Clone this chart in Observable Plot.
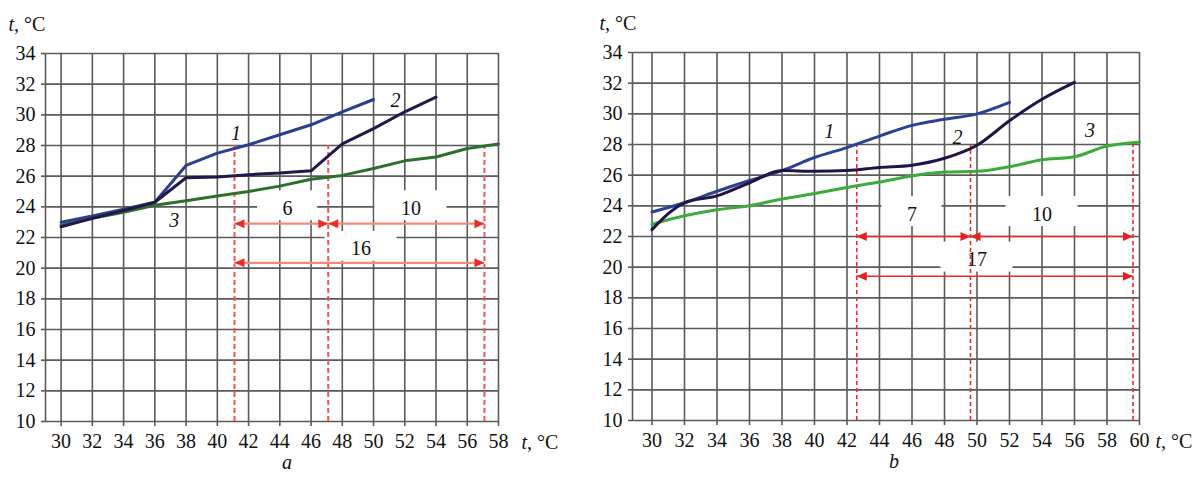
<!DOCTYPE html>
<html lang="en">
<head>
<meta charset="utf-8">
<title>Temperature curves</title>
<script src="https://cdn.jsdelivr.net/npm/d3@7"></script>
<script src="https://cdn.jsdelivr.net/npm/@observablehq/plot@0.6"></script>
<style>
  html, body { margin: 0; padding: 0; background: #fff; }
  #charts { display: flex; width: 1197px; height: 491px; overflow: hidden; }
  #charts svg { display: block; }
  #charts svg, #charts svg text { font-family: "Liberation Serif", "DejaVu Serif", serif !important; }
</style>
</head>
<body>
<div id="charts"></div>
<script>
// ---- shared axis values ----
const yTicks = [10, 12, 14, 16, 18, 20, 22, 24, 26, 28, 30, 32, 34];
const unitVar = "t";
const unitRest = ", °C";
const curveNames = ["1", "2", "3"];

// ---- panel a ----
const aTicks = [30, 32, 34, 36, 38, 40, 42, 44, 46, 48, 50, 52, 54, 56, 58];
const aCurve1 = [23.0, 23.4, 23.85, 24.3, 26.7, 27.5, 28.05, 28.7, 29.35, 30.2, 31.0];
const aCurve2 = [22.7, 23.25, 23.75, 24.3, 25.9, 25.95, 26.1, 26.2, 26.35, 28.1, 29.1, 30.2, 31.15];
const aCurve3 = [22.8, 23.25, 23.65, 24.1, 24.4, 24.7, 25.0, 25.35, 25.8, 26.05, 26.5, 27.0, 27.25, 27.8, 28.1];
const aNameX = [41.2, 51.4, 37.25];
const aNameY = [28.8, 30.95, 23.1];
const aSpanStart = 41.1;
const aSpanWidths = [6, 10];
const aSpanLevel = 28;
const aArrowY = [22.9, 20.35];
const aSpanLabelX = [44.5, 52.4, 49.2];
const aSpanLabelY = [23.9, 23.9, 21.25];
const aCaption = "a";

// ---- panel b ----
const bTicks = [30, 32, 34, 36, 38, 40, 42, 44, 46, 48, 50, 52, 54, 56, 58, 60];
const bCurve1 = [23.6, 24.2, 24.95, 25.65, 26.3, 27.15, 27.8, 28.55, 29.25, 29.65, 30.0, 30.75];
const bCurve2 = [22.45, 24.2, 24.65, 25.5, 26.3, 26.25, 26.3, 26.5, 26.65, 27.1, 27.95, 29.55, 30.95, 32.05];
const bCurve3 = [22.8, 23.35, 23.75, 24.0, 24.45, 24.8, 25.2, 25.55, 25.95, 26.2, 26.25, 26.55, 27.0, 27.2, 27.9, 28.15];
const bNameX = [40.9, 48.8, 56.95];
const bNameY = [28.85, 28.45, 28.9];
const bSpanStart = 42.6;
const bSpanWidths = [7, 10];
const bSpanLevel = 28;
const bArrowY = [22.0, 19.4];
const bSpanLabelX = [46.0, 54.0, 50.0];
const bSpanLabelY = [23.45, 23.45, 20.48];
const bCaption = "b";

// filled arrowheads with the tip at the anchor point
const headRight = {draw(ctx) { ctx.moveTo(0, 0); ctx.lineTo(-10, -4.5); ctx.lineTo(-10, 4.5); ctx.closePath(); }};
const headLeft = {draw(ctx) { ctx.moveTo(0, 0); ctx.lineTo(10, -4.5); ctx.lineTo(10, 4.5); ctx.closePath(); }};

const FONT = "Liberation Serif";
const GRID = "#5a5a5a";

function panel(cfg) {
  const [xMin, xMax] = cfg.domain;
  const yMin = yTicks[0], yMax = yTicks[yTicks.length - 1];
  const plotW = cfg.width - cfg.margin[3] - cfg.margin[1];
  const pxPerUnit = plotW / (xMax - xMin);

  const series = cfg.curves.map(vals => vals.map((v, i) => ({x: cfg.ticks[i], y: v})));

  // vertical markers laid out from the stated interval widths
  const markers = [cfg.spanStart];
  cfg.spanWidths.forEach(w => markers.push(markers[markers.length - 1] + w));
  const total = d3.sum(cfg.spanWidths);
  const spans = [
    {x1: markers[0], x2: markers[1], y: cfg.arrowY[0], w: cfg.spanWidths[0]},
    {x1: markers[1], x2: markers[2], y: cfg.arrowY[0], w: cfg.spanWidths[1]},
    {x1: markers[0], x2: markers[2], y: cfg.arrowY[1], w: total}
  ];
  const labels = spans.map((s, i) => {
    const text = String(s.w);
    const half = (24 + 6 * text.length) / pxPerUnit;
    return {text, x: cfg.spanLabelX[i], y: cfg.spanLabelY[i], half};
  });
  const names = curveNames.map((n, i) => ({text: n, x: cfg.nameX[i], y: cfg.nameY[i]}));

  const drawOrder = [2, 0, 1];
  const txt = {fontSize: 20, fontFamily: FONT, fill: "#111"};

  const svg = Plot.plot({
    width: cfg.width,
    height: 491,
    marginTop: cfg.margin[0],
    marginRight: cfg.margin[1],
    marginBottom: cfg.margin[2],
    marginLeft: cfg.margin[3],
    style: {fontFamily: FONT, fontSize: "20px", color: "#111", background: "#fff"},
    x: {domain: [xMin, xMax]},
    y: {domain: [yMin, yMax]},
    marks: [
      Plot.gridX(cfg.ticks, {stroke: GRID, strokeOpacity: 1, strokeWidth: 1.6}),
      Plot.gridY(yTicks, {stroke: GRID, strokeOpacity: 1, strokeWidth: 1.6}),
      Plot.ruleX([xMin], {stroke: GRID, strokeWidth: 1.6}),
      Plot.axisX(cfg.ticks, {tickSize: 5, tickPadding: 7, stroke: GRID, strokeWidth: 1.6, ...txt, label: null}),
      Plot.axisY(yTicks, {tickSize: 4, tickPadding: 6, stroke: GRID, strokeWidth: 1.6, ...txt, label: null}),
      // white label backgrounds
      Plot.rect(labels, {x1: d => d.x - d.half, x2: d => d.x + d.half,
        y1: d => d.y - 0.8, y2: d => d.y + 1.15, fill: "white"}),
      // dashed markers
      Plot.ruleX(markers, {x: d => d, y1: yMin, y2: cfg.spanLevel, stroke: cfg.dashColor,
        strokeWidth: cfg.dashWidth, strokeDasharray: cfg.dash}),
      // dimension arrows
      Plot.ruleY(spans, {y: "y", x1: "x1", x2: "x2", stroke: cfg.arrowColor, strokeWidth: cfg.arrowWidth}),
      Plot.dot(spans, {x: "x1", y: "y", symbol: headLeft, fill: cfg.headColor, stroke: "none"}),
      Plot.dot(spans, {x: "x2", y: "y", symbol: headRight, fill: cfg.headColor, stroke: "none"}),
      // curves
      ...drawOrder.map(k => Plot.line(series[k], {x: "x", y: "y", stroke: cfg.colors[k],
        strokeWidth: 3, curve: cfg.curve})),
      Plot.text(labels, {x: "x", y: "y", text: "text", ...txt}),
      Plot.text(names, {x: "x", y: "y", text: "text", ...txt, fontStyle: "italic"}),
      // axis titles and caption
      Plot.text([unitVar + unitRest], {text: d => d, frameAnchor: "top-left", textAnchor: "start",
        lineAnchor: "middle", dx: cfg.yTitle[0], dy: cfg.yTitle[1], ...txt}),
      Plot.text([unitVar + unitRest], {text: d => d, frameAnchor: "bottom-right", textAnchor: "start",
        lineAnchor: "middle", dx: cfg.xTitle[0], dy: cfg.xTitle[1], ...txt}),
      Plot.text([cfg.caption], {text: d => d, frameAnchor: "bottom", lineAnchor: "middle",
        dx: cfg.captionDx, dy: 41, ...txt, fontStyle: "italic"})
    ]
  });

  // italic variable symbol inside the unit titles
  d3.select(svg).selectAll("text")
    .filter(function () { return this.textContent === unitVar + unitRest; })
    .each(function () {
      const t = d3.select(this);
      t.text(null);
      t.append("tspan").attr("font-style", "italic").text(unitVar);
      t.append("tspan").text(unitRest);
    });
  return svg;
}

const root = document.getElementById("charts");

root.appendChild(panel({
  width: 598,
  margin: [53, 100, 70, 45],
  domain: [29, 58],
  ticks: aTicks,
  curves: [aCurve1, aCurve2, aCurve3],
  colors: ["#2b3f8e", "#231649", "#2f6f2c"],
  curve: "linear",
  nameX: aNameX, nameY: aNameY,
  spanStart: aSpanStart, spanWidths: aSpanWidths, spanLevel: aSpanLevel,
  arrowY: aArrowY, spanLabelX: aSpanLabelX, spanLabelY: aSpanLabelY,
  dashColor: "#f25454", dashWidth: 2, dash: "5,3",
  arrowColor: "#f58a7c", arrowWidth: 2.2, headColor: "#ee2b2b",
  yTitle: [-37, -29], xTitle: [23, 21],
  caption: aCaption, captionDx: 15
}));

root.appendChild(panel({
  width: 599,
  margin: [52, 58, 71, 34],
  domain: [28.8, 60],
  ticks: bTicks,
  curves: [bCurve1, bCurve2, bCurve3],
  colors: ["#2c4290", "#1f1547", "#3faa3c"],
  curve: "monotone-x",
  nameX: bNameX, nameY: bNameY,
  spanStart: bSpanStart, spanWidths: bSpanWidths, spanLevel: bSpanLevel,
  arrowY: bArrowY, spanLabelX: bSpanLabelX, spanLabelY: bSpanLabelY,
  dashColor: "#ea2a2a", dashWidth: 1.6, dash: "4,3",
  arrowColor: "#e52b2b", arrowWidth: 1.5, headColor: "#e52020",
  yTitle: [-33, -29], xTitle: [16, 21],
  caption: bCaption, captionDx: 8
}));
</script>
</body>
</html>
